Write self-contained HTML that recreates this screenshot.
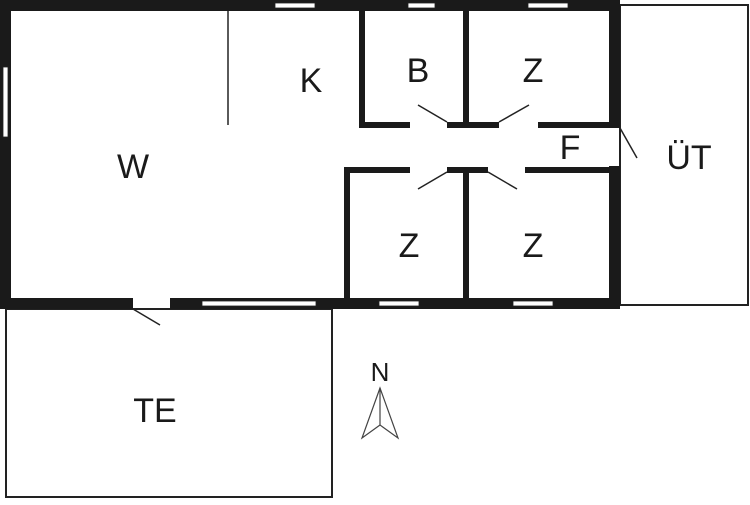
<!DOCTYPE html><html><head><style>body{margin:0;background:#fff}</style></head><body>
<svg width="750" height="500" viewBox="0 0 750 500" xmlns="http://www.w3.org/2000/svg" font-family="Liberation Sans, sans-serif" fill="#1a1a1a">
<rect width="750" height="500" fill="#fff"/>
<g fill="none" stroke="#222" stroke-width="2">
<rect x="620" y="5" width="128" height="300"/>
<rect x="6" y="309" width="326" height="188"/>
<line x1="228" y1="11" x2="228" y2="125" stroke-width="1.5"/>
<line x1="447" y1="122" x2="418" y2="105" stroke-width="1.5"/>
<line x1="499" y1="122" x2="529" y2="105" stroke-width="1.5"/>
<line x1="447" y1="172" x2="418" y2="189" stroke-width="1.5"/>
<line x1="488" y1="172" x2="517" y2="189" stroke-width="1.5"/>
<line x1="620" y1="128" x2="637" y2="158" stroke-width="1.5"/>
<line x1="133" y1="309" x2="160" y2="325" stroke-width="1.5"/>
</g>
<g fill="#1a1a1a">
<rect x="0" y="0" width="620" height="11"/>
<rect x="0" y="0" width="11" height="309"/>
<rect x="0" y="298" width="133" height="11"/>
<rect x="170" y="298" width="450" height="11"/>
<rect x="609" y="0" width="11" height="128"/>
<rect x="609" y="166" width="11" height="143"/>
<rect x="359" y="0" width="6" height="128"/>
<rect x="463" y="0" width="6" height="128"/>
<rect x="359" y="122" width="51" height="6"/>
<rect x="447" y="122" width="52" height="6"/>
<rect x="538" y="122" width="81" height="6"/>
<rect x="344" y="167" width="66" height="6"/>
<rect x="447" y="167" width="41" height="6"/>
<rect x="525" y="167" width="94" height="6"/>
<rect x="344" y="167" width="6" height="142"/>
<rect x="463" y="167" width="6" height="142"/>
</g>
<g fill="#fff" stroke="#222" stroke-width="0.8">
<rect x="275" y="3" width="40" height="5"/>
<rect x="408" y="3" width="27" height="5"/>
<rect x="528" y="3" width="40" height="5"/>
<rect x="3" y="67" width="5" height="70"/>
<rect x="202" y="301" width="114" height="5"/>
<rect x="379" y="301" width="40" height="5"/>
<rect x="513" y="301" width="40" height="5"/>
</g>
<g font-size="34" text-anchor="middle">
<text x="133" y="178">W</text>
<text x="311" y="92">K</text>
<text x="418" y="82">B</text>
<text x="533" y="82">Z</text>
<text x="570" y="159">F</text>
<text x="689" y="169">ÜT</text>
<text x="409" y="257">Z</text>
<text x="533" y="257">Z</text>
<text x="155" y="422">TE</text>
<text x="380" y="381" font-size="26">N</text>
</g>
<g fill="none" stroke="#444" stroke-width="1.2">
<polygon points="380,388 362,438 380,425 398,438"/>
<line x1="380" y1="388" x2="380" y2="425"/>
</g>
</svg>
</body></html>
